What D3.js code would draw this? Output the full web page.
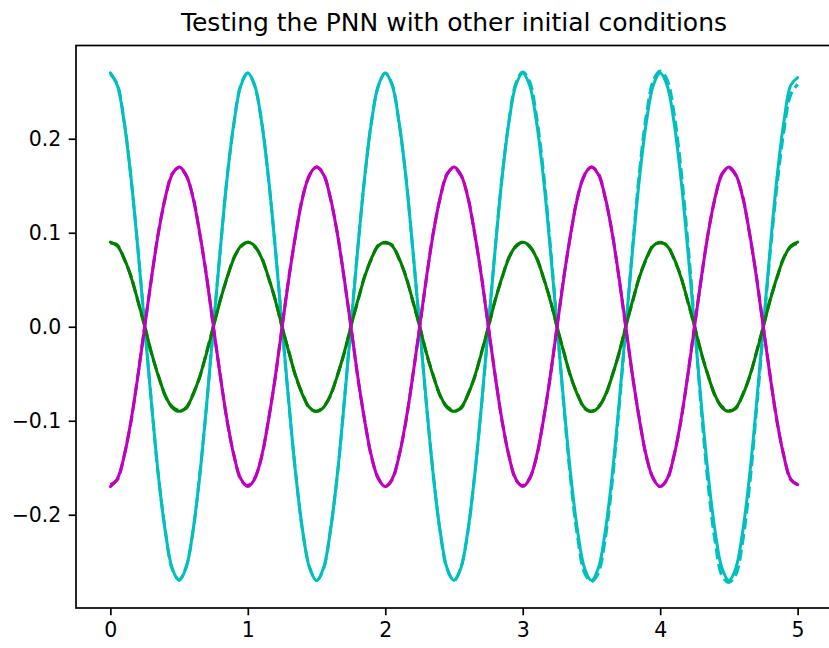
<!DOCTYPE html>
<html>
<head>
<meta charset="utf-8">
<script src="https://cdn.jsdelivr.net/npm/d3@7"></script>
<style>
  html, body { margin: 0; padding: 0; background: #fff; }
  svg { display: block; }
  text { font-family: "DejaVu Sans", sans-serif; fill: #000; }
</style>
</head>
<body>
<svg id="chart" width="829" height="648"></svg>
<script>
// Sample times (s)
const times = [
  0.00,0.05,0.10,0.15,0.20,0.25,0.30,0.35,0.40,0.45,0.50,0.55,0.60,0.65,0.70,0.75,0.80,0.85,0.90,0.95,
  1.00,1.05,1.10,1.15,1.20,1.25,1.30,1.35,1.40,1.45,1.50,1.55,1.60,1.65,1.70,1.75,1.80,1.85,1.90,1.95,
  2.00,2.05,2.10,2.15,2.20,2.25,2.30,2.35,2.40,2.45,2.50,2.55,2.60,2.65,2.70,2.75,2.80,2.85,2.90,2.95,
  3.00,3.05,3.10,3.15,3.20,3.25,3.30,3.35,3.40,3.45,3.50,3.55,3.60,3.65,3.70,3.75,3.80,3.85,3.90,3.95,
  4.00,4.05,4.10,4.15,4.20,4.25,4.30,4.35,4.40,4.45,4.50,4.55,4.60,4.65,4.70,4.75,4.80,4.85,4.90,4.95,
  5.00
];

// Reference solution, first component (cyan)
const cyanTrue = [
  0.270,0.257,0.218,0.159,0.083,0.000,-0.083,-0.159,-0.218,-0.257,-0.270,-0.257,-0.218,-0.159,-0.083,0.000,0.083,0.159,0.218,0.257,
  0.270,0.257,0.218,0.159,0.083,0.000,-0.083,-0.159,-0.218,-0.257,-0.270,-0.257,-0.218,-0.159,-0.083,0.000,0.083,0.159,0.218,0.257,
  0.270,0.257,0.218,0.159,0.083,0.000,-0.083,-0.159,-0.218,-0.257,-0.270,-0.257,-0.218,-0.159,-0.083,0.000,0.083,0.159,0.218,0.257,
  0.270,0.257,0.218,0.159,0.083,0.000,-0.083,-0.159,-0.218,-0.257,-0.270,-0.257,-0.218,-0.159,-0.083,0.000,0.083,0.159,0.218,0.257,
  0.270,0.257,0.218,0.159,0.083,0.000,-0.083,-0.159,-0.218,-0.257,-0.270,-0.257,-0.218,-0.159,-0.083,0.000,0.083,0.159,0.218,0.257,
  0.265
];
// PNN prediction, first component
const cyanPNN = [
  0.269,0.258,0.219,0.158,0.084,0.001,-0.082,-0.160,-0.217,-0.258,-0.269,-0.256,-0.219,-0.158,-0.084,0.001,0.082,0.160,0.217,0.258,
  0.270,0.256,0.219,0.158,0.084,-0.001,-0.084,-0.158,-0.219,-0.256,-0.270,-0.258,-0.217,-0.160,-0.082,0.001,0.084,0.158,0.219,0.256,
  0.270,0.258,0.217,0.160,0.082,0.001,-0.084,-0.158,-0.219,-0.258,-0.270,-0.256,-0.219,-0.158,-0.084,-0.001,0.084,0.160,0.219,0.259,
  0.271,0.261,0.224,0.166,0.088,0.002,-0.086,-0.165,-0.225,-0.262,-0.271,-0.262,-0.226,-0.167,-0.088,-0.002,0.086,0.166,0.226,0.262,
  0.272,0.263,0.228,0.170,0.092,0.004,-0.090,-0.170,-0.229,-0.265,-0.272,-0.264,-0.229,-0.170,-0.090,-0.005,0.078,0.150,0.208,0.247,
  0.258
];

// Reference solution, second component (green)
const greenTrue = [
  0.090,0.086,0.073,0.053,0.028,0.000,-0.028,-0.053,-0.073,-0.086,-0.090,-0.086,-0.073,-0.053,-0.028,0.000,0.028,0.053,0.073,0.086,
  0.090,0.086,0.073,0.053,0.028,0.000,-0.028,-0.053,-0.073,-0.086,-0.090,-0.086,-0.073,-0.053,-0.028,0.000,0.028,0.053,0.073,0.086,
  0.090,0.086,0.073,0.053,0.028,0.000,-0.028,-0.053,-0.073,-0.086,-0.090,-0.086,-0.073,-0.053,-0.028,0.000,0.028,0.053,0.073,0.086,
  0.090,0.086,0.073,0.053,0.028,0.000,-0.028,-0.053,-0.073,-0.086,-0.090,-0.086,-0.073,-0.053,-0.028,0.000,0.028,0.053,0.073,0.086,
  0.090,0.086,0.073,0.053,0.028,0.000,-0.028,-0.053,-0.073,-0.086,-0.090,-0.086,-0.073,-0.053,-0.028,0.000,0.028,0.053,0.073,0.086,
  0.090
];
// PNN prediction, second component
const greenPNN = [
  0.089,0.087,0.072,0.054,0.027,0.001,-0.029,-0.052,-0.074,-0.085,-0.089,-0.087,-0.072,-0.054,-0.027,0.001,0.029,0.052,0.074,0.085,
  0.090,0.085,0.074,0.052,0.029,-0.001,-0.027,-0.054,-0.072,-0.087,-0.090,-0.085,-0.074,-0.052,-0.029,0.001,0.027,0.054,0.072,0.087,
  0.089,0.087,0.072,0.054,0.027,0.001,-0.029,-0.052,-0.074,-0.085,-0.089,-0.087,-0.072,-0.054,-0.027,-0.001,0.029,0.052,0.074,0.085,
  0.090,0.085,0.074,0.052,0.029,-0.001,-0.027,-0.054,-0.072,-0.087,-0.090,-0.085,-0.074,-0.052,-0.029,0.001,0.027,0.054,0.072,0.087,
  0.089,0.087,0.072,0.054,0.027,0.001,-0.029,-0.052,-0.074,-0.085,-0.089,-0.087,-0.072,-0.054,-0.027,0.000,0.029,0.052,0.074,0.085,
  0.089
];

// Reference solution, third component (magenta)
const magentaTrue = [
  -0.170,-0.162,-0.138,-0.100,-0.053,0.000,0.053,0.100,0.138,0.162,0.170,0.162,0.138,0.100,0.053,0.000,-0.053,-0.100,-0.138,-0.162,
  -0.170,-0.162,-0.138,-0.100,-0.053,0.000,0.053,0.100,0.138,0.162,0.170,0.162,0.138,0.100,0.053,0.000,-0.053,-0.100,-0.138,-0.162,
  -0.170,-0.162,-0.138,-0.100,-0.053,0.000,0.053,0.100,0.138,0.162,0.170,0.162,0.138,0.100,0.053,0.000,-0.053,-0.100,-0.138,-0.162,
  -0.170,-0.162,-0.138,-0.100,-0.053,0.000,0.053,0.100,0.138,0.162,0.170,0.162,0.138,0.100,0.053,0.000,-0.053,-0.100,-0.138,-0.162,
  -0.170,-0.162,-0.138,-0.100,-0.053,0.000,0.053,0.100,0.138,0.162,0.170,0.162,0.138,0.100,0.053,0.000,-0.053,-0.100,-0.138,-0.162,
  -0.168
];
// PNN prediction, third component
const magentaPNN = [
  -0.168,-0.163,-0.137,-0.101,-0.052,0.001,0.052,0.101,0.137,0.163,0.169,0.161,0.139,0.099,0.054,-0.001,-0.052,-0.101,-0.137,-0.163,
  -0.169,-0.161,-0.139,-0.099,-0.054,0.001,0.054,0.099,0.139,0.161,0.170,0.163,0.137,0.101,0.052,0.001,-0.054,-0.099,-0.139,-0.161,
  -0.170,-0.163,-0.137,-0.101,-0.052,-0.001,0.052,0.101,0.137,0.163,0.169,0.161,0.139,0.099,0.054,0.000,-0.052,-0.101,-0.137,-0.163,
  -0.169,-0.161,-0.139,-0.099,-0.054,0.001,0.054,0.099,0.139,0.161,0.170,0.163,0.137,0.101,0.052,-0.001,-0.054,-0.099,-0.139,-0.161,
  -0.170,-0.163,-0.137,-0.101,-0.052,0.001,0.052,0.101,0.137,0.163,0.169,0.161,0.139,0.099,0.054,0.000,-0.052,-0.101,-0.137,-0.163,
  -0.168
];

const xTicks = [0, 1, 2, 3, 4, 5];
const yTicks = [-0.2, -0.1, 0.0, 0.1, 0.2];
const titleText = "Testing the PNN with other initial conditions";

// Draw order: each component solid, then its prediction dashed
const seriesList = [
  { values: cyanTrue,    color: "#00bfbf", dashed: false },
  { values: cyanPNN,     color: "#00bfbf", dashed: true  },
  { values: greenTrue,   color: "#008000", dashed: false },
  { values: greenPNN,    color: "#008000", dashed: true  },
  { values: magentaTrue, color: "#bf00bf", dashed: false },
  { values: magentaPNN,  color: "#bf00bf", dashed: true  }
];

const svg = d3.select("#chart");
const plot = { left: 76, right: 832, top: 45.5, bottom: 608 };

// Axis limits with a 5% margin on each side, like matplotlib autoscaling
const allY = seriesList.flatMap(s => s.values);
const [x0, x1] = d3.extent(times);
const [y0, y1] = d3.extent(allY);
const mx = (x1 - x0) * 0.05, my = (y1 - y0) * 0.05;

const x = d3.scaleLinear().domain([x0 - mx, x1 + mx]).range([plot.left, plot.right]);
const y = d3.scaleLinear().domain([y0 - my, y1 + my]).range([plot.bottom, plot.top]);

const line = d3.line()
  .x((d, i) => x(times[i]))
  .y(d => y(d))
  .curve(d3.curveCatmullRom.alpha(0.5));

const lw = 3.0;
svg.append("g").attr("class", "series")
  .selectAll("path")
  .data(seriesList)
  .join("path")
  .attr("d", s => line(s.values))
  .attr("fill", "none")
  .attr("stroke", s => s.color)
  .attr("stroke-width", lw)
  .attr("stroke-linejoin", "round")
  .attr("stroke-linecap", s => s.dashed ? "butt" : "round")
  .attr("stroke-dasharray", s => s.dashed ? `${3.7 * lw},${1.6 * lw}` : null);

// Frame
svg.append("rect")
  .attr("x", plot.left).attr("y", plot.top)
  .attr("width", plot.right - plot.left).attr("height", plot.bottom - plot.top)
  .attr("fill", "none").attr("stroke", "#000").attr("stroke-width", 1.7);

// Axes
const fmtY = d3.format(".1f");
const xAxis = d3.axisBottom(x).tickValues(xTicks).tickFormat(d3.format("d"))
  .tickSize(7.3).tickPadding(7.3);
const yAxis = d3.axisLeft(y).tickValues(yTicks).tickFormat(d => fmtY(d))
  .tickSize(7.3).tickPadding(7.3);

const gx = svg.append("g").attr("transform", `translate(0,${plot.bottom})`).call(xAxis);
const gy = svg.append("g").attr("transform", `translate(${plot.left},0)`).call(yAxis);
[gx, gy].forEach(g => {
  g.select(".domain").remove();
  g.selectAll(".tick line").attr("stroke", "#000").attr("stroke-width", 1.7);
  g.selectAll(".tick text").attr("font-size", 20.5).attr("font-family", "DejaVu Sans").attr("fill", "#222");
});

// Title
svg.append("text")
  .attr("x", (plot.left + plot.right) / 2)
  .attr("y", plot.top - 15)
  .attr("text-anchor", "middle")
  .attr("font-size", 25)
  .attr("fill", "#222")
  .text(titleText);
</script>
</body>
</html>
